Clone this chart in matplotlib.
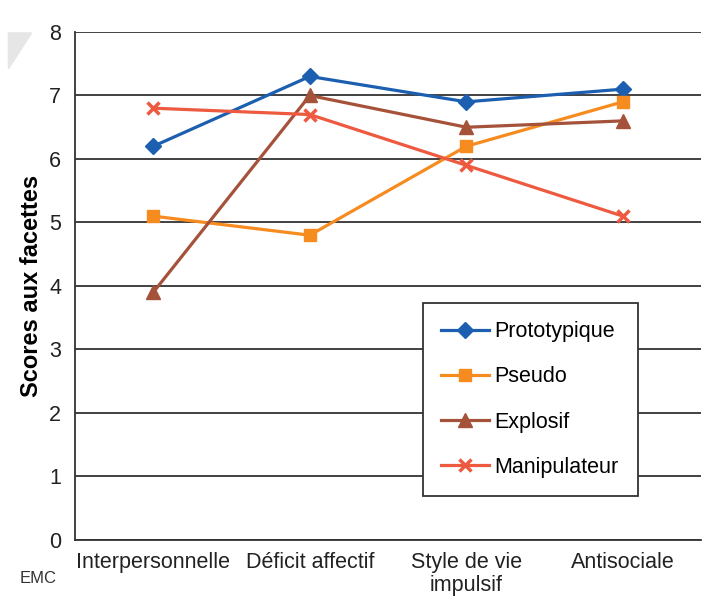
import matplotlib
matplotlib.use("Agg")
import matplotlib.pyplot as plt
from matplotlib.patches import Polygon

plt.rcParams['font.family'] = ['Liberation Sans', 'DejaVu Sans']

categories = ["Interpersonnelle", "Déficit affectif", "Style de vie\nimpulsif", "Antisociale"]
prototypique = [6.2, 7.3, 6.9, 7.1]
pseudo = [5.1, 4.8, 6.2, 6.9]
explosif = [3.9, 7.0, 6.5, 6.6]
manipulateur = [6.8, 6.7, 5.9, 5.1]

fig = plt.figure(figsize=(7.02, 5.99), dpi=100)
ax = fig.add_axes([0.1068, 0.0985, 0.892, 0.8481])

x = range(len(categories))
ax.plot(x, prototypique, color="#1c5fb0", lw=2.3, marker="D", ms=8.5, label="Prototypique")
ax.plot(x, pseudo, color="#f68b1f", lw=2.3, marker="s", ms=8.5, label="Pseudo")
ax.plot(x, explosif, color="#a5523a", lw=2.3, marker="^", ms=10, label="Explosif")
ax.plot(x, manipulateur, color="#ee5a40", lw=2.3, marker="x", ms=9, mew=2.5, label="Manipulateur")

ax.set_xlim(-0.5, 3.5)
ax.set_ylim(0, 8)
ax.set_yticks(range(0, 9))
ax.set_xticks(list(x))
ax.set_xticklabels(categories, linespacing=1.1)
ax.tick_params(axis="both", length=0, labelsize=15.5, colors="#222222")
ax.tick_params(axis="y", pad=10)
ax.tick_params(axis="x", pad=9)
ax.grid(axis="y", color="#333333", lw=1.3)
ax.set_axisbelow(True)
for s in ["top", "right"]:
    ax.spines[s].set_visible(False)
ax.spines["left"].set_linewidth(1.3)
ax.spines["bottom"].set_linewidth(1.3)
ax.spines["left"].set_color("#333333")
ax.spines["bottom"].set_color("#333333")
ax.set_ylabel("Scores aux facettes", fontsize=17, fontweight="bold", labelpad=4)

leg = ax.legend(loc="upper left", bbox_to_anchor=(0.556, 0.4665, 0.343, 0.0), mode="expand",
                borderaxespad=0, fontsize=15.5, fancybox=False, edgecolor="#333333", framealpha=1,
                labelspacing=1.12, handlelength=2.2, handletextpad=0.25, borderpad=0.85)
leg.get_frame().set_linewidth(1.3)

# decorative corner and logo
fig.patches.append(Polygon([[0.012, 0.945], [0.045, 0.945], [0.012, 0.885]], closed=True,
                           transform=fig.transFigure, color="#e6e6e6", zorder=0))
fig.text(0.055, 0.035, "EMC", fontsize=12, color="#333333", ha="center", va="center",
         fontstretch="condensed")

fig.savefig("out.png", dpi=100)
